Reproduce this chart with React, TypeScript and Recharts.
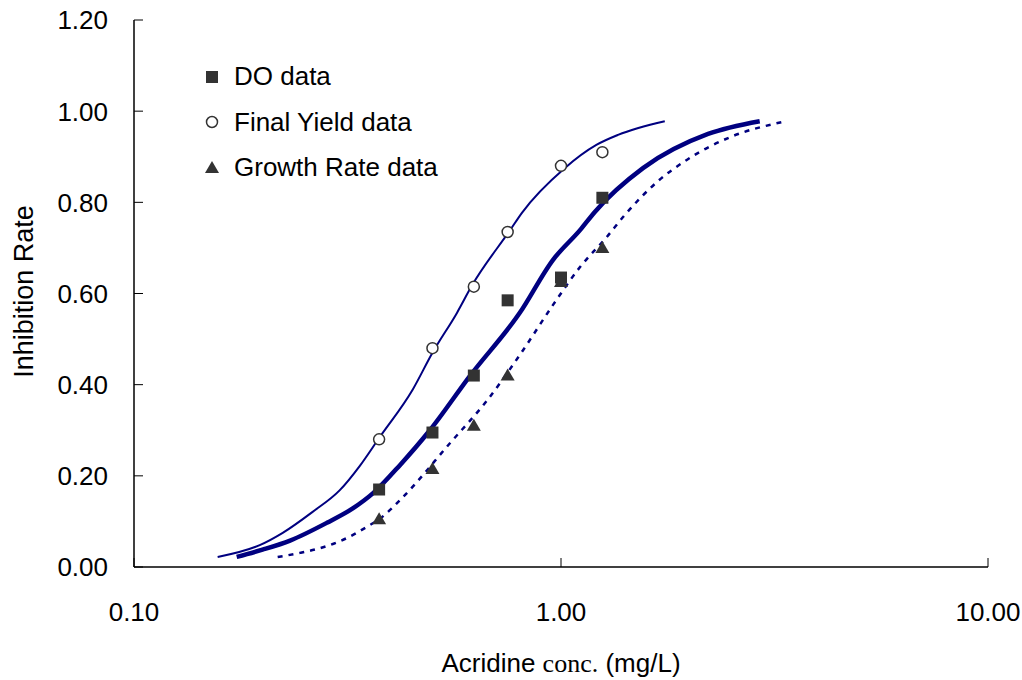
import React from "react";
import { ComposedChart, Line, Scatter, XAxis, YAxis, Legend } from "recharts";

// measured points (acridine conc. in mg/L)
const concentrations = [0.375, 0.5, 0.625, 0.75, 1.0, 1.25];
const doValues = [0.17, 0.295, 0.42, 0.585, 0.635, 0.81];
const yieldValues = [0.28, 0.48, 0.615, 0.735, 0.88, 0.91];
const growthValues = [0.105, 0.215, 0.31, 0.42, 0.625, 0.7];

// fitted curves
const yieldFitX = [0.157, 0.197, 0.223, 0.262, 0.303, 0.338, 0.375, 0.45, 0.5, 0.571, 0.62, 0.76, 0.81, 1.02, 1.21, 1.36, 1.75];
const yieldFitY = [0.022, 0.048, 0.075, 0.121, 0.168, 0.222, 0.283, 0.39, 0.47, 0.558, 0.619, 0.739, 0.777, 0.875, 0.926, 0.948, 0.978];
const doFitX = [0.174, 0.2, 0.232, 0.283, 0.326, 0.363, 0.42, 0.493, 0.614, 0.8, 0.958, 1.108, 1.2, 1.556, 2.21, 2.92];
const doFitY = [0.022, 0.038, 0.058, 0.097, 0.129, 0.162, 0.224, 0.3, 0.421, 0.557, 0.674, 0.739, 0.779, 0.875, 0.95, 0.978];
const growthFitX = [0.217, 0.245, 0.283, 0.316, 0.351, 0.378, 0.42, 0.55, 0.672, 0.81, 0.958, 1.108, 1.28, 1.41, 1.68, 1.97, 2.49, 3.29];
const growthFitY = [0.022, 0.031, 0.046, 0.064, 0.088, 0.107, 0.147, 0.272, 0.366, 0.472, 0.575, 0.658, 0.724, 0.772, 0.845, 0.893, 0.943, 0.976];

const xTicks = [0.1, 1, 10];
const yTicks = [0, 0.2, 0.4, 0.6, 0.8, 1.0, 1.2];

const legendItems = ["DO data", "Final Yield data", "Growth Rate data"];

const toRows = (xs: number[], ys: number[]) => xs.map((x, i) => ({ x, y: ys[i] }));

const doPoints = toRows(concentrations, doValues);
const yieldPoints = toRows(concentrations, yieldValues);
const growthPoints = toRows(concentrations, growthValues);
const yieldFit = toRows(yieldFitX, yieldFitY);
const doFit = toRows(doFitX, doFitY);
const growthFit = toRows(growthFitX, growthFitY);

const FONT = '"Liberation Sans", Arial, sans-serif';
const LINE = "#000080";
const MARK = "#333333";
const Y_MARGIN = 22;
const X_MARGIN = 35;

const Square = (p: any) => <rect x={p.cx - 6} y={p.cy - 6} width={12} height={12} fill={MARK} />;
const Circle = (p: any) => <circle cx={p.cx} cy={p.cy} r={5.5} fill="#fff" stroke={MARK} strokeWidth={1.5} />;
const Triangle = (p: any) => (
  <polygon points={`${p.cx},${p.cy - 7} ${p.cx + 7},${p.cy + 5} ${p.cx - 7},${p.cy + 5}`} fill={MARK} />
);

const YTick = ({ x, y, payload }: any) => (
  <g>
    <line x1={x + Y_MARGIN} x2={x + Y_MARGIN + 9} y1={y} y2={y} stroke="#000" strokeWidth={1} />
    <text x={x - 4} y={y} dy="0.36em" textAnchor="end" fontFamily={FONT} fontSize={26} fill="#000">
      {payload.value.toFixed(2)}
    </text>
  </g>
);

const XTick = ({ x, y, payload }: any) => (
  <g>
    <line x1={x} x2={x} y1={y - X_MARGIN} y2={y - X_MARGIN - 9} stroke="#000" strokeWidth={1} />
    <text x={x} y={y} dy="0.72em" textAnchor="middle" fontFamily={FONT} fontSize={26} fill="#000">
      {payload.value.toFixed(2)}
    </text>
  </g>
);

const XLabel = ({ viewBox }: any) => (
  <text x={viewBox.x + viewBox.width / 2} y={viewBox.y + 105} textAnchor="middle" fontFamily={FONT} fontSize={26} fill="#000">
    Acridine <tspan fontFamily='"Liberation Serif", "Times New Roman", serif'>conc.</tspan> (mg/L)
  </text>
);

const YLabel = ({ viewBox }: any) => {
  const cx = viewBox.x + 33;
  const cy = viewBox.y + viewBox.height / 2 - 2;
  return (
    <text x={cx} y={cy} textAnchor="middle" transform={`rotate(-90, ${cx}, ${cy})`} fontFamily={FONT} fontSize={27} fill="#000">
      Inhibition Rate
    </text>
  );
};

const markers = [Square, Circle, Triangle];

const LegendBox = () => (
  <div style={{ fontFamily: FONT, fontSize: 26, color: "#000" }}>
    {legendItems.map((name, i) => {
      const Marker = markers[i];
      return (
        <div key={name} style={{ display: "flex", alignItems: "center", height: 45.5 }}>
          <svg width={16} height={16} style={{ marginRight: 14 }}>
            <Marker cx={8} cy={8} />
          </svg>
          <span>{name}</span>
        </div>
      );
    })}
  </div>
);

export default function App() {
  return (
    <>
      <style>{"body { margin: 0; }"}</style>
      <ComposedChart width={1022} height={680} margin={{ top: 20, right: 34, bottom: 0, left: 0 }}>
        <XAxis
          dataKey="x"
          type="number"
          scale="log"
          domain={[0.1, 10]}
          ticks={xTicks}
          allowDataOverflow
          height={113}
          tickLine={false}
          tickSize={0}
          tickMargin={X_MARGIN}
          tick={<XTick />}
          axisLine={{ stroke: "#000", strokeWidth: 1.5 }}
          label={{ content: <XLabel /> }}
        />
        <YAxis
          dataKey="y"
          type="number"
          domain={[0, 1.2]}
          ticks={yTicks}
          width={134}
          tickLine={false}
          tickSize={0}
          tickMargin={Y_MARGIN}
          tick={<YTick />}
          axisLine={{ stroke: "#000", strokeWidth: 1.5 }}
          label={{ content: <YLabel /> }}
        />
        <Legend
          layout="horizontal"
          verticalAlign="middle"
          align="center"
          wrapperStyle={{ left: 204, top: 54, width: 320 }}
          content={<LegendBox />}
        />
        <Line data={yieldFit} dataKey="y" type="monotone" stroke={LINE} strokeWidth={2} dot={false} isAnimationActive={false} />
        <Line data={doFit} dataKey="y" type="monotone" stroke={LINE} strokeWidth={4.5} dot={false} isAnimationActive={false} />
        <Line
          data={growthFit}
          dataKey="y"
          type="monotone"
          stroke={LINE}
          strokeWidth={2.5}
          strokeDasharray="5 6"
          dot={false}
          isAnimationActive={false}
        />
        <Scatter name="DO data" data={doPoints} shape={<Square />} isAnimationActive={false} />
        <Scatter name="Final Yield data" data={yieldPoints} shape={<Circle />} isAnimationActive={false} />
        <Scatter name="Growth Rate data" data={growthPoints} shape={<Triangle />} isAnimationActive={false} />
      </ComposedChart>
    </>
  );
}
